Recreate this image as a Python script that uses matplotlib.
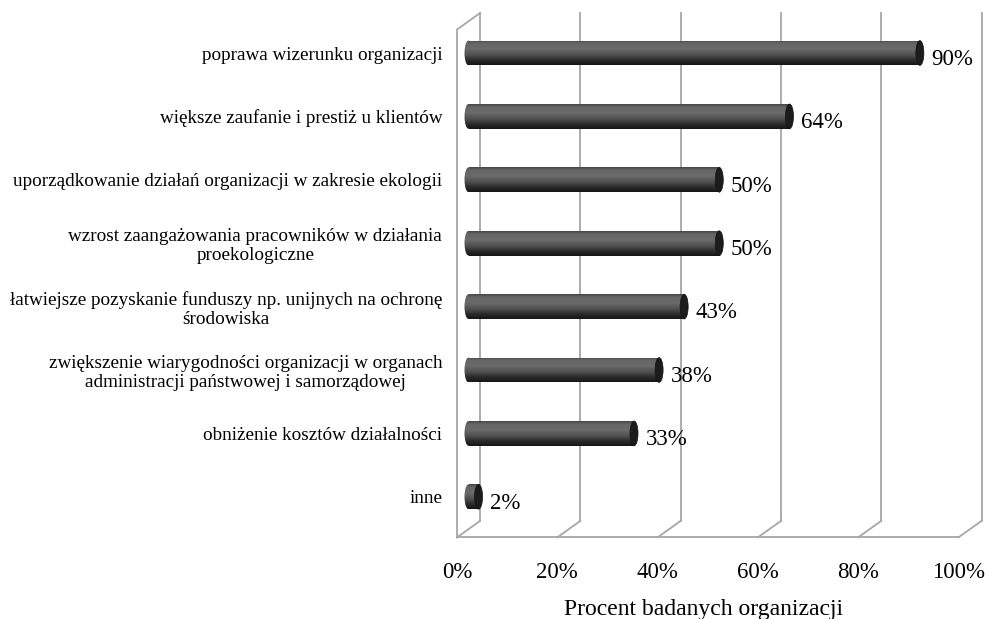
import numpy as np
import matplotlib.pyplot as plt
from matplotlib.patches import Ellipse
from matplotlib.colors import LinearSegmentedColormap

plt.rcParams['font.family'] = ['Liberation Serif', 'DejaVu Serif']

# data
categories = [
    "poprawa wizerunku organizacji",
    "większe zaufanie i prestiż u klientów",
    "uporządkowanie działań organizacji w zakresie ekologii",
    "wzrost zaangażowania pracowników w działania\nproekologiczne",
    "łatwiejsze pozyskanie funduszy np. unijnych na ochronę\nśrodowiska",
    "zwiększenie wiarygodności organizacji w organach\nadministracji państwowej i samorządowej",
    "obniżenie kosztów działalności",
    "inne",
]
values = [90, 64, 50, 50, 43, 38, 33, 2]
ticks = [0, 20, 40, 60, 80, 100]
tick_labels = ["0%", "20%", "40%", "60%", "80%", "100%"]

# 3D-ish box geometry (in data units)
DX = 2.3      # horizontal half depth
DY = 0.13     # vertical half depth
FLOOR = 7.51
TOP = -0.50
BAR_H = 0.39
CAP_W = 1.6
GRID = '#a6a6a6'

fig = plt.figure(figsize=(9.89, 6.19), dpi=100)
ax = fig.add_axes([445 / 989, 74 / 619, 544 / 989, 545 / 619])

# walls and floor
for t in ticks:
    ax.plot([t + DX, t + DX], [FLOOR - DY, TOP - DY], color=GRID, lw=1.3, zorder=1)
    ax.plot([t - DX, t + DX], [FLOOR + DY, FLOOR - DY], color=GRID, lw=1.3, zorder=1)
ax.plot([ticks[0] - DX, ticks[-1] - DX], [FLOOR + DY, FLOOR + DY], color=GRID, lw=1.3, zorder=1)
ax.plot([-DX, -DX, DX], [FLOOR + DY, TOP + DY, TOP - DY], color=GRID, lw=1.3, zorder=1)

# cylinder bars
shade = LinearSegmentedColormap.from_list('cyl', [
    (0.0, '#464646'), (0.12, '#666666'), (0.35, '#6b6b6b'),
    (0.6, '#4f4f4f'), (0.8, '#2c2c2c'), (1.0, '#161616')])
grad = np.linspace(0, 1, 100).reshape(-1, 1)

ypos = np.arange(len(values))
bars = ax.barh(ypos, values, height=BAR_H, color='none', zorder=2)
for bar, v, y in zip(bars, values, ypos):
    top, bot = y - BAR_H / 2, y + BAR_H / 2
    im = ax.imshow(grad, cmap=shade, aspect='auto', origin='upper',
                   extent=(-CAP_W, v, bot, top), zorder=3)
    im.set_clip_path(bar)
    left_cap = Ellipse((0, y), CAP_W, BAR_H, facecolor='none', edgecolor='none')
    ax.add_patch(left_cap)
    im2 = ax.imshow(grad, cmap=shade, aspect='auto', origin='upper',
                    extent=(-CAP_W, v, bot, top), zorder=3)
    im2.set_clip_path(left_cap)
    ax.add_patch(Ellipse((v, y), CAP_W, BAR_H, facecolor='#1c1c1c',
                         edgecolor='#111111', lw=0.5, zorder=4))
    ax.text(v + 2.3, y + 0.1, f"{v}%", ha='left', va='center', fontsize=16.5, zorder=5)

ax.set_xlim(-4.69, 103.79)
ax.set_ylim(7.76, -0.836)

ax.set_yticks(ypos)
ax.set_yticklabels(categories, fontsize=13.8, linespacing=1.15, multialignment='center')
ax.set_xticks([t - DX for t in ticks])
ax.set_xticklabels(tick_labels, fontsize=16.5)
ax.tick_params(axis='y', length=0, pad=2)
ax.tick_params(axis='x', length=0, pad=12)
for s in ax.spines.values():
    s.set_visible(False)

ax.set_xlabel("Procent badanych organizacji", fontsize=17, labelpad=8)
ax.xaxis.set_label_coords((704 - 445) / 544, -0.1)

fig.savefig("out.png", dpi=100)
